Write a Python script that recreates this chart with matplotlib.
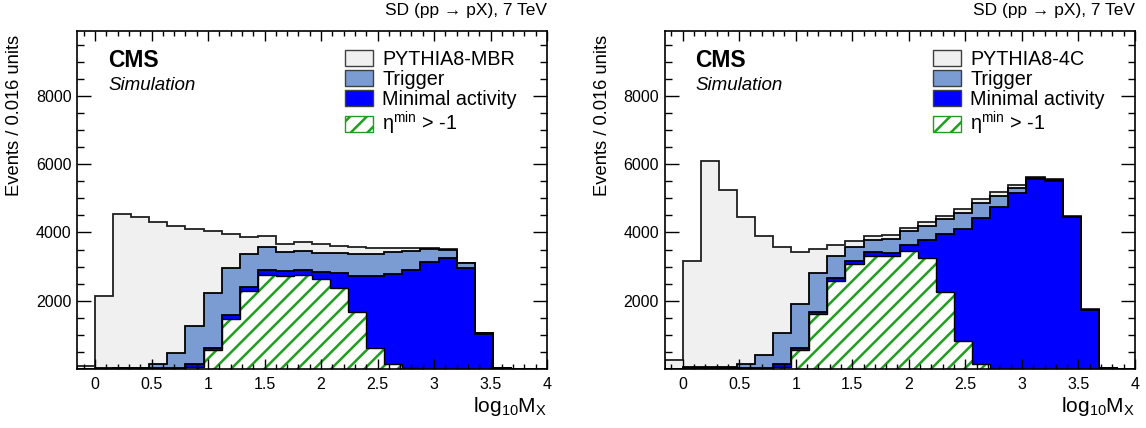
import numpy as np
import matplotlib
matplotlib.use("Agg")
import matplotlib.pyplot as plt
from matplotlib.patches import Patch

plt.rcParams["font.family"] = ["Liberation Sans", "DejaVu Sans"]
plt.rcParams["mathtext.fontset"] = "custom"
plt.rcParams["mathtext.rm"] = "Liberation Sans"
plt.rcParams["mathtext.it"] = "Liberation Sans:italic"
plt.rcParams["hatch.linewidth"] = 1.8

# log10 M_X binning: 26 bins of 0.16 from -0.16 to 4.0
edges = np.round(np.arange(-0.16, 4.0 + 1e-9, 0.16), 2)

# PYTHIA8-MBR
mbr_total = [80, 2130, 4530, 4450, 4300, 4190, 4100, 4040, 3950, 3855, 3895, 3650, 3710,
             3650, 3610, 3580, 3555, 3535, 3555, 3540, 3505, 3095, 1045, 20, 0, 0]
mbr_trigger = [0, 15, 20, 25, 135, 460, 1270, 2235, 2965, 3365, 3570, 3420, 3470,
               3405, 3385, 3365, 3365, 3425, 3465, 3505, 3485, 3095, 1045, 20, 0, 0]
mbr_minact = [0, 10, 15, 20, 30, 40, 135, 625, 1570, 2390, 2910, 2870, 2900,
              2830, 2800, 2735, 2725, 2770, 2900, 3125, 3260, 2950, 1025, 20, 0, 0]
mbr_eta = [0, 0, 0, 0, 0, 5, 60, 555, 1475, 2285, 2760, 2725, 2740,
           2625, 2360, 1680, 625, 135, 20, 0, 0, 0, 0, 0, 0, 0]

# PYTHIA8-4C
tune4c_total = [250, 3150, 6090, 5240, 4440, 3905, 3580, 3425, 3515, 3640, 3755, 3885, 3930,
                4140, 4305, 4490, 4685, 4970, 5175, 5390, 5630, 5555, 4480, 1745, 20, 0]
tune4c_trigger = [0, 60, 60, 70, 135, 410, 1045, 1915, 2800, 3310, 3580, 3775, 3805,
                  4040, 4185, 4380, 4575, 4870, 5075, 5290, 5585, 5535, 4460, 1725, 15, 0]
tune4c_minact = [0, 40, 40, 40, 30, 30, 135, 605, 1680, 2675, 3160, 3415, 3400,
                 3630, 3775, 3955, 4100, 4410, 4735, 5165, 5555, 5515, 4455, 1720, 15, 0]
tune4c_eta = [0, 0, 0, 0, 0, 0, 60, 555, 1610, 2585, 3065, 3310, 3310,
              3455, 3260, 2265, 820, 145, 10, 0, 0, 0, 0, 0, 0, 0]

x_ticks = [0, 0.5, 1, 1.5, 2, 2.5, 3, 3.5, 4]
x_ticklabels = ["0", "0.5", "1", "1.5", "2", "2.5", "3", "3.5", "4"]
y_ticks = [2000, 4000, 6000, 8000]

GREY = "#f0f0f0"
TRIG = "#7b9bd3"
MINACT = "#0000ff"
GREEN = "#1f9f1f"


def draw_panel(ax, total, trigger, minact, eta, gen_label):
    ax.stairs(total, edges, fill=True, facecolor=GREY, edgecolor="none", baseline=0)
    ax.stairs(total, edges, color="#202020", lw=1.3, baseline=0)
    ax.stairs(trigger, edges, fill=True, facecolor=TRIG, edgecolor="none", baseline=0)
    ax.stairs(trigger, edges, color="black", lw=1.3, baseline=0)
    ax.stairs(minact, edges, fill=True, facecolor=MINACT, edgecolor="none", baseline=0)
    ax.stairs(minact, edges, color="black", lw=1.3, baseline=0)
    ax.stairs(eta, edges, fill=True, facecolor="white", edgecolor=GREEN, hatch="//",
              lw=0, baseline=0)
    ax.stairs(eta, edges, color="black", lw=1.0, baseline=0)

    ax.set_xlim(-0.16, 4.0)
    ax.set_ylim(0, 9900)
    ax.set_xticks(x_ticks)
    ax.set_xticklabels(x_ticklabels)
    ax.set_xticks(np.arange(-0.1, 4.01, 0.1), minor=True)
    ax.set_yticks(y_ticks)
    ax.set_yticks(np.arange(500, 9900, 500), minor=True)
    ax.tick_params(which="both", direction="in", top=True, right=True,
                   labelsize=11.5, width=1.0)
    ax.tick_params(axis="x", which="major", length=7.3, pad=6)
    ax.tick_params(axis="x", which="minor", length=3.7)
    ax.tick_params(axis="y", which="major", length=10, pad=4)
    ax.tick_params(axis="y", which="minor", length=5)
    for sp in ax.spines.values():
        sp.set_linewidth(1.2)

    ax.text(0.066, 0.912, "CMS", transform=ax.transAxes, fontsize=16.5,
            fontweight="bold", va="center", ha="left")
    ax.text(0.066, 0.840, "Simulation", transform=ax.transAxes, fontsize=13.5,
            style="italic", va="center", ha="left")
    ax.text(1.0, 1.062, "SD (pp \u2192 pX), 7 TeV", transform=ax.transAxes,
            fontsize=12.5, ha="right", va="center")
    ax.text(1.0, -0.11, r"$\mathregular{log_{10}M_X}$", transform=ax.transAxes,
            fontsize=15, ha="right", va="center")
    ax.text(-0.132, 0.99, "Events / 0.016 units", transform=ax.transAxes,
            fontsize=13.2, rotation=90, ha="center", va="top")

    handles = [
        Patch(facecolor=GREY, edgecolor="#404040", lw=1.0),
        Patch(facecolor=TRIG, edgecolor="#404040", lw=1.0),
        Patch(facecolor=MINACT, edgecolor="#404040", lw=1.0),
        Patch(facecolor="white", edgecolor=GREEN, hatch="//", lw=1.0),
    ]
    labels = [gen_label, "Trigger", "Minimal activity",
              r"$\mathregular{\eta^{min}}$ > -1"]
    ax.legend(handles, labels, loc="upper left", bbox_to_anchor=(0.57, 0.945),
              frameon=False, fontsize=14.2, handlelength=1.45, handleheight=0.9,
              handletextpad=0.45, labelspacing=0.06, borderpad=0, borderaxespad=0)


fig = plt.figure(figsize=(11.46, 4.28), dpi=100)
ax1 = fig.add_axes([77 / 1146, 59 / 428, 470 / 1146, 338 / 428])
ax2 = fig.add_axes([664.5 / 1146, 59 / 428, 470.5 / 1146, 338 / 428])

draw_panel(ax1, mbr_total, mbr_trigger, mbr_minact, mbr_eta, "PYTHIA8-MBR")
draw_panel(ax2, tune4c_total, tune4c_trigger, tune4c_minact, tune4c_eta, "PYTHIA8-4C")

fig.savefig("out.png", dpi=100)
